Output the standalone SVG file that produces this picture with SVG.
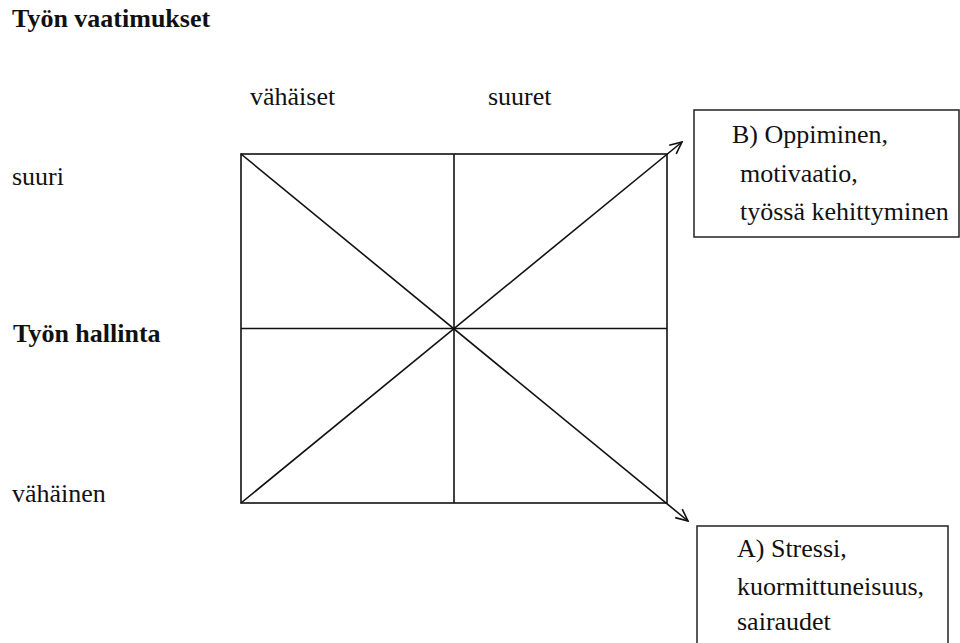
<svg xmlns="http://www.w3.org/2000/svg" width="960" height="643" viewBox="0 0 960 643">
<style>
  .t { font-family: 'Liberation Serif', 'Times New Roman', serif; font-size: 26px; fill: #111; }
  .b { font-weight: bold; }
  .ln { stroke: #111; stroke-width: 1.6; fill: none; }
  .box { stroke: #222; stroke-width: 1.5; fill: #fff; }
</style>
<defs>
  <marker id="arr" viewBox="0 0 14 14" refX="13" refY="7" markerWidth="14" markerHeight="14" markerUnits="userSpaceOnUse" orient="auto">
    <path d="M1,1.5 L13,7 L1,12.5" fill="none" stroke="#111" stroke-width="1.6"/>
  </marker>
</defs>
<rect width="960" height="643" fill="#fff"/>
<g id="labels" class="t">
  <text class="b" x="12" y="27">Työn vaatimukset</text>
  <text x="250" y="105">vähäiset</text>
  <text x="488" y="105">suuret</text>
  <text x="12" y="185">suuri</text>
  <text class="b" x="13" y="342">Työn hallinta</text>
  <text x="12" y="502">vähäinen</text>
</g>
<g id="grid">
  <rect class="ln" x="241" y="154" width="426" height="349"/>
  <line class="ln" x1="454" y1="154" x2="454" y2="503"/>
  <line class="ln" x1="241" y1="328.5" x2="667" y2="328.5"/>
</g>
<g id="connectors">
  <line class="ln" x1="241" y1="503" x2="682" y2="142" marker-end="url(#arr)"/>
  <line class="ln" x1="241" y1="154" x2="688" y2="521" marker-end="url(#arr)"/>
</g>
<g id="nodeB" class="t">
  <rect class="box" x="694" y="110" width="265" height="127"/>
  <text x="732" y="143">B) Oppiminen,</text>
  <text x="740" y="182">motivaatio,</text>
  <text x="740" y="220">työssä kehittyminen</text>
</g>
<g id="nodeA" class="t">
  <rect class="box" x="697" y="526" width="251" height="130"/>
  <text x="737" y="557">A)  Stressi,</text>
  <text x="737" y="595">kuormittuneisuus,</text>
  <text x="737" y="630">sairaudet</text>
</g>
</svg>
